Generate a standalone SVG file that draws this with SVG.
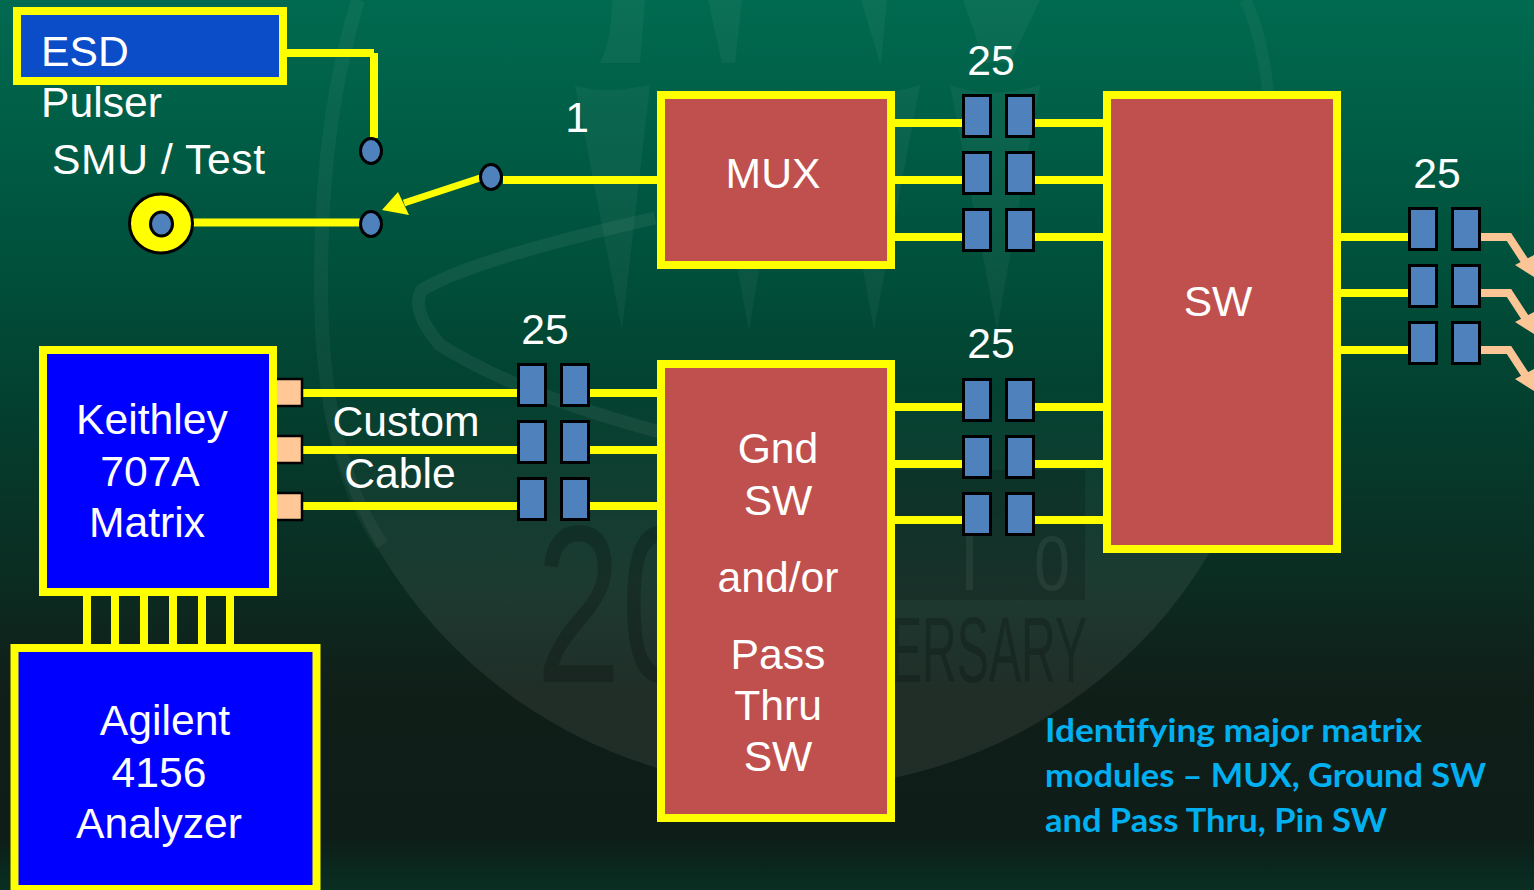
<svg xmlns="http://www.w3.org/2000/svg" xmlns:xlink="http://www.w3.org/1999/xlink" width="1534" height="890" viewBox="0 0 1534 890">
<style>
.t{font-family:"Liberation Sans",Arial,sans-serif;font-size:42.67px;fill:#fff;text-anchor:middle}
.l{text-anchor:start}
.c{font-family:Lato,"Open Sans",sans-serif;font-weight:700;font-size:33px;fill:#00b0f0}
.box{stroke:#ff0;stroke-width:8}
.red{fill:#c0504d}
.w{stroke:#ff0;stroke-width:8;fill:none}
.p{stroke:#fcc596;stroke-width:8;fill:none}
.pin{fill:#4f81bd;stroke:#000;stroke-width:3}
.peach{fill:#ffc896;stroke:#000;stroke-width:2.500}
.dot{fill:#4f81bd;stroke:#000;stroke-width:3}
.spike{fill:#fff;opacity:.045}
.wt{font-family:"Liberation Sans",sans-serif;fill:#000}
</style>
<defs>
<linearGradient id="bg" x1="0" y1="0" x2="0" y2="1">
<stop offset="0" stop-color="#006a50"/>
<stop offset=".3" stop-color="#00503b"/>
<stop offset=".45" stop-color="#03402f"/>
<stop offset=".67" stop-color="#0c2a20"/>
<stop offset=".78" stop-color="#101e18"/>
<stop offset=".94" stop-color="#0e1d18"/>
<stop offset=".98" stop-color="#09291f"/>
<stop offset="1" stop-color="#0a2e22"/>
</linearGradient>
<linearGradient id="disc" gradientUnits="userSpaceOnUse" x1="0" y1="380" x2="0" y2="580">
<stop offset="0" stop-color="#fff" stop-opacity="0"/>
<stop offset="1" stop-color="#fff" stop-opacity=".07"/>
</linearGradient>
<g id="pair">
<rect class="pin" x="1.500" y="1.500" width="27" height="41"/>
<rect class="pin" x="44.500" y="1.500" width="27" height="41"/>
</g>
<g id="triple">
<use xlink:href="#pair" href="#pair"/>
<use xlink:href="#pair" href="#pair" y="57"/>
<use xlink:href="#pair" href="#pair" y="114"/>
</g>
</defs>
<rect width="1534" height="890" fill="url(#bg)"/>
<g id="watermark">
<circle cx="795" cy="305" r="483" fill="url(#disc)"/>
<path d="M358 0Q315 140 322 330 330 470 382 545" fill="none" stroke="#fff" stroke-opacity=".045" stroke-width="14"/>
<path d="M1245 0Q1275 60 1272 200" fill="none" stroke="#fff" stroke-opacity=".04" stroke-width="12"/>
<path class="spike" d="M600 63Q612 40 612 0H645L640 63Z"/>
<path class="spike" d="M708 0H742L735 63H722Z"/>
<path class="spike" d="M861 0H887L881 63H880Z"/>
<path class="spike" d="M963 0H1040L1010 63H985Z"/>
<path class="spike" d="M575 85Q600 95 650 85L622 330Z"/>
<path class="spike" d="M705 100Q740 100 790 90L749 330Z"/>
<path class="spike" d="M830 90Q870 100 920 85L874 330Z"/>
<path class="spike" d="M950 85Q990 100 1040 85L997 330Z"/>
<path d="M655 218Q470 260 422 290 410 310 440 345 520 395 660 432" fill="none" stroke="#fff" stroke-opacity=".06" stroke-width="13"/>
<text class="wt" x="536" y="682" font-size="225" textLength="170" lengthAdjust="spacingAndGlyphs" opacity=".2">20</text>
<rect x="895" y="470" width="190" height="130" fill="#000" opacity=".16"/>
<text class="wt" x="958" y="590" font-size="78" opacity=".0" style="fill:#fff">1</text>
<text class="wt" x="1034" y="590" font-size="78" textLength="36" lengthAdjust="spacingAndGlyphs" style="fill:#fff" opacity=".06">0</text>
<rect x="966" y="535" width="7" height="55" fill="#fff" opacity=".06"/>
<text class="wt" x="890" y="682" font-size="93" textLength="197" lengthAdjust="spacingAndGlyphs" opacity=".2">ERSARY</text>
</g>
<g id="connectors">
<path class="w" d="M287 53H374"/>
<path class="w" d="M374 53V138"/>
<path class="w" d="M190 222.500H361"/>
<path class="w" d="M503 180H660"/>
<path d="M480 178L404 203" stroke="#ff0" stroke-width="7" fill="none"/>
<path d="M382 210L398 192 409 215Z" fill="#ff0"/>
<path class="w" d="M892 123H964M1034 123H1106M892 180H964M1034 180H1106M892 237H964M1034 237H1106"/>
<path class="w" d="M892 407H964M1034 407H1106M892 464H964M1034 464H1106M892 520H964M1034 520H1106"/>
<path class="w" d="M303 393H519M589 393H660M303 450H519M589 450H660M303 506H519M589 506H660"/>
<path class="w" d="M1338 237H1410M1338 293H1410M1338 350H1410"/>
<path class="w" d="M87 594V646M115 594V646M144 594V646M173 594V646M202 594V646M230 594V646"/>
<g id="out1"><path class="p" d="M1480 237H1509L1526 263"/><path d="M1515 265L1534 255V277Z" fill="#fcc596"/></g>
<g id="out2"><path class="p" d="M1480 293H1509L1526 319"/><path d="M1515 322L1534 312V334Z" fill="#fcc596"/></g>
<g id="out3"><path class="p" d="M1480 350H1509L1526 376"/><path d="M1515 379L1534 369V391Z" fill="#fcc596"/></g>
</g>
<g id="pins-top"><use xlink:href="#triple" href="#triple" x="962" y="94"/><text class="t" x="991" y="75">25</text></g>
<g id="pins-mid"><use xlink:href="#triple" href="#triple" x="962" y="378"/><text class="t" x="991" y="358">25</text></g>
<g id="pins-left"><use xlink:href="#triple" href="#triple" x="517" y="363"/><text class="t" x="545" y="344">25</text></g>
<g id="pins-right"><use xlink:href="#triple" href="#triple" x="1408" y="207"/><text class="t" x="1437" y="188">25</text></g>
<g id="esd"><rect class="box" x="17" y="11" width="266" height="70" fill="#0b4cc8"/><text class="t l" x="41" y="66">ESD</text></g>
<text class="t l" x="41" y="117">Pulser</text>
<text class="t l" x="52" y="174" textLength="213">SMU / Test</text>
<text class="t" x="577" y="132">1</text>
<g id="smu"><ellipse cx="161" cy="223.500" rx="31.500" ry="29.500" fill="#ff0" stroke="#000" stroke-width="3"/><ellipse class="dot" cx="161.500" cy="224" rx="11" ry="12"/></g>
<g id="sw-a"><ellipse class="dot" cx="371" cy="151" rx="10.500" ry="12.500"/></g>
<g id="sw-b"><ellipse class="dot" cx="371" cy="224" rx="10.500" ry="12.500"/></g>
<g id="sw-c"><ellipse class="dot" cx="491" cy="177" rx="10.500" ry="12.500"/></g>
<g id="mux"><rect class="box red" x="661" y="95" width="230" height="170"/><text class="t" x="773" y="188">MUX</text></g>
<g id="sw"><rect class="box red" x="1107" y="95" width="230" height="454"/><text class="t" x="1218" y="316">SW</text></g>
<g id="gnd"><rect class="box red" x="661" y="364" width="230" height="454"/>
<text class="t" x="778" y="463">Gnd</text><text class="t" x="778" y="515">SW</text><text class="t" x="778" y="592">and/or</text><text class="t" x="778" y="669">Pass</text><text class="t" x="778" y="720">Thru</text><text class="t" x="778" y="771">SW</text></g>
<g id="ports"><rect class="peach" x="262" y="379" width="40" height="27"/><rect class="peach" x="262" y="436" width="40" height="27"/><rect class="peach" x="262" y="493" width="40" height="27"/></g>
<g id="keithley"><rect class="box" x="43" y="350" width="230" height="242" fill="#00f"/>
<text class="t" x="152" y="434">Keithley</text><text class="t" x="150" y="486">707A</text><text class="t" x="147" y="537">Matrix</text></g>
<g id="agilent"><rect class="box" x="14.500" y="648" width="302" height="241" fill="#00f"/>
<text class="t" x="165" y="735">Agilent</text><text class="t" x="159" y="787">4156</text><text class="t" x="159" y="838">Analyzer</text></g>
<g id="caption"><text class="c" x="1045" y="742" textLength="377" lengthAdjust="spacingAndGlyphs">Identifying major matrix</text><text class="c" x="1045" y="787" textLength="441" lengthAdjust="spacingAndGlyphs">modules – MUX, Ground SW</text><text class="c" x="1045" y="832" textLength="342" lengthAdjust="spacingAndGlyphs">and Pass Thru, Pin SW</text></g>
<text class="t" x="406" y="436">Custom</text><text class="t" x="400" y="488">Cable</text>
</svg>
